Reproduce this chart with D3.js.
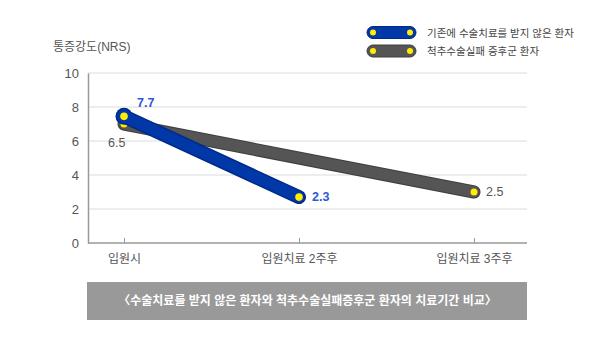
<!DOCTYPE html>
<html><head><meta charset="utf-8">
<script src="https://cdn.jsdelivr.net/npm/d3@7"></script>
<style>
html,body{margin:0;padding:0;background:#fff;}
svg{display:block;font-family:"Liberation Sans","Noto Sans CJK KR",sans-serif;}
</style></head>
<body>
<svg id="chart" width="600" height="353"></svg>
<script>
const categories = ["입원시", "입원치료 2주후", "입원치료 3주후"];
const seriesNames = ["기존에 수술치료를 받지 않은 환자", "척추수술실패 증후군 환자"];
const blueValues = [7.45, 2.7];        // plotted positions (입원시, 2주후)
const grayValues = [7.0, 3.0];         // plotted positions (입원시, 3주후)
const blueLabels = ["7.7", "2.3"];
const grayLabels = ["6.5", "2.5"];
const yTicks = [0, 2, 4, 6, 8, 10];
const yTitle = "통증강도(NRS)";
const caption = "〈수술치료를 받지 않은 환자와 척추수술실패증후군 환자의 치료기간 비교〉";

(function () {
const FONT = "'Liberation Sans','Noto Sans CJK KR',sans-serif";
const svg = d3.select("#chart");
const mLeft = 88, mRight = 527, mTop = 73, mBottom = 243;

const y = d3.scaleLinear().domain([0, 10]).range([mBottom, mTop]);
const x = d3.scalePoint().domain(categories).range([124, 474]);

// grid
svg.append("g").selectAll("line").data(yTicks.filter(d => d > 0)).join("line")
  .attr("x1", mLeft).attr("x2", mRight)
  .attr("y1", d => y(d)).attr("y2", d => y(d))
  .attr("stroke", "#dcdcdc").attr("stroke-width", 1);

// y axis
const yAxis = svg.append("g").attr("transform", `translate(${mLeft},0)`)
  .call(d3.axisLeft(y).tickValues(yTicks).tickSize(0).tickPadding(9));
yAxis.select(".domain").attr("stroke", "#999").attr("stroke-width", 1.5);
yAxis.selectAll("text").attr("fill", "#555").style("font-size", "13px").style("font-family", FONT);

// x axis
const xAxis = svg.append("g").attr("transform", `translate(0,${mBottom})`)
  .call(d3.axisBottom(x).tickSize(-5).tickPadding(11));
xAxis.select(".domain").attr("d", `M${mLeft},0H${mRight}`).attr("stroke", "#999").attr("stroke-width", 1.5);
xAxis.selectAll(".tick line").attr("stroke", "#999");
xAxis.selectAll("text").attr("fill", "#555").style("font-size", "12px").style("font-family", FONT);

// y title
svg.append("text").attr("x", 53).attr("y", 51).text(yTitle)
  .attr("fill", "#555").style("font-size", "12px");

// series data
const grayPts = [[categories[0], grayValues[0]], [categories[2], grayValues[1]]];
const bluePts = [[categories[0], blueValues[0]], [categories[1], blueValues[1]]];
const line = d3.line().x(d => x(d[0])).y(d => y(d[1]));

// gray line
svg.append("path").datum(grayPts).attr("d", line)
  .attr("fill", "none").attr("stroke", "#3e3e3e").attr("stroke-width", 13).attr("stroke-linecap", "round");
svg.append("path").datum(grayPts).attr("d", line)
  .attr("fill", "none").attr("stroke", "#555555").attr("stroke-width", 11).attr("stroke-linecap", "round");
svg.append("g").selectAll("circle").data(grayPts).join("circle")
  .attr("cx", d => x(d[0])).attr("cy", d => y(d[1])).attr("r", 3.5).attr("fill", "#ffee00");

// blue line
svg.append("path").datum(bluePts).attr("d", line)
  .attr("fill", "none").attr("stroke", "#002a8a").attr("stroke-width", 14).attr("stroke-linecap", "round");
svg.append("circle").attr("cx", x(bluePts[0][0])).attr("cy", y(bluePts[0][1])).attr("r", 8.5).attr("fill", "#002a8a");
svg.append("path").datum(bluePts).attr("d", line)
  .attr("fill", "none").attr("stroke", "#0038a8").attr("stroke-width", 11).attr("stroke-linecap", "round");
svg.append("circle").attr("cx", x(bluePts[0][0])).attr("cy", y(bluePts[0][1])).attr("r", 7).attr("fill", "#0038a8");
svg.append("g").selectAll("circle").data(bluePts).join("circle")
  .attr("cx", d => x(d[0])).attr("cy", d => y(d[1])).attr("r", 3.8).attr("fill", "#ffee00");

// data labels
const lab = (xx, yy, t, c) => svg.append("text").attr("x", xx).attr("y", yy).text(t)
  .attr("fill", c).style("font-size", "12.5px").style("font-weight", c === "#555" ? "normal" : "bold");
lab(x(categories[0]) + 13, y(blueValues[0]) - 9, blueLabels[0], "#2a58d8");
lab(x(categories[1]) + 13, y(blueValues[1]) + 4, blueLabels[1], "#2a58d8");
lab(x(categories[0]) - 16, y(grayValues[0]) + 23, grayLabels[0], "#555");
lab(x(categories[2]) + 12, y(grayValues[1]) + 4, grayLabels[1], "#555");

// legend
const legColors = [["#002a8a", "#0038a8"], ["#3e3e3e", "#555555"]];
const legY = [32.5, 51];
seriesNames.forEach((name, i) => {
  const g = svg.append("g").attr("transform", `translate(367,${legY[i]})`);
  g.append("rect").attr("x", 0).attr("y", -6).attr("width", 49).attr("height", 12).attr("rx", 6)
    .attr("fill", legColors[i][1]).attr("stroke", legColors[i][0]).attr("stroke-width", 1);
  g.append("circle").attr("cx", 6).attr("cy", 0).attr("r", 3).attr("fill", "#ffee00");
  g.append("circle").attr("cx", 43).attr("cy", 0).attr("r", 3).attr("fill", "#ffee00");
  g.append("text").attr("x", 60).attr("y", 4).text(name).attr("fill", "#444").style("font-size", "10.5px");
});

// caption banner
svg.append("rect").attr("x", mLeft - 1).attr("y", 282).attr("width", mRight - mLeft + 1).attr("height", 38)
  .attr("fill", "#999999");
svg.append("text").attr("x", (mLeft + mRight) / 2).attr("y", 305).attr("text-anchor", "middle")
  .text(caption).attr("fill", "#fff").style("font-size", "12px").style("font-weight", "bold");
})();
</script>
</body></html>
